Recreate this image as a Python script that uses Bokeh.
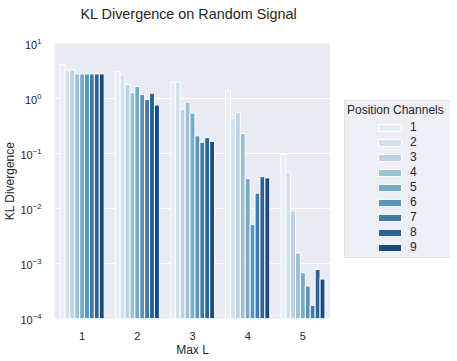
from bokeh.plotting import figure
from bokeh.layouts import row
from bokeh.models import (FactorRange, Range1d, Legend, LegendItem, ColumnDataSource, Title)
from bokeh.transform import dodge
from bokeh.embed import file_html
from bokeh.resources import INLINE

# ---- data ----
max_l = ["1", "2", "3", "4", "5"]
channels = ["1", "2", "3", "4", "5", "6", "7", "8", "9"]
ch1 = [4.2, 3.1, 2.0, 1.36, 0.096]
ch2 = [3.3, 2.7, 2.0, 0.44, 0.046]
ch3 = [3.3, 1.8, 0.63, 0.55, 0.0091]
ch4 = [2.8, 1.27, 0.86, 0.23, 0.00155]
ch5 = [2.8, 1.65, 0.54, 0.035, 0.00068]
ch6 = [2.8, 1.18, 0.21, 0.0051, 0.00039]
ch7 = [2.8, 0.96, 0.16, 0.019, 0.000174]
ch8 = [2.8, 1.25, 0.195, 0.038, 0.00078]
ch9 = [2.8, 0.76, 0.166, 0.036, 0.00052]
series = [ch1, ch2, ch3, ch4, ch5, ch6, ch7, ch8, ch9]
colors = ["#e6eef6", "#d3e1ee", "#bbd3e3", "#9cc1d5", "#77aac8",
          "#5a94b9", "#407caa", "#296398", "#194b80"]

FONT = "Liberation Sans"
TXT = "#262626"

data = {"maxl": max_l}
for name, vals in zip(channels, series):
    data["ch" + name] = vals
src = ColumnDataSource(data)

p = figure(x_range=FactorRange(*max_l, range_padding=0), y_axis_type="log",
           y_range=Range1d(1e-4, 10),
           frame_width=276, frame_height=275,
           min_border_left=48, min_border_right=0, min_border_top=42, min_border_bottom=0,
           output_backend="svg", toolbar_location=None, title_location=None)

p.background_fill_color = "#eaeaf2"
p.border_fill_color = "white"
p.outline_line_color = None

# spacer between plot and title (added first -> closest to the frame), then the title
p.add_layout(Title(text=" ", text_font=FONT, text_font_size="15px", standoff=0), "above")
p.add_layout(Title(text="KL Divergence on Random Signal", text_font=FONT,
                   text_font_size="14.4px", text_font_style="normal", text_color=TXT,
                   align="left", offset=26, standoff=6), "above")

p.xgrid.grid_line_color = None
p.ygrid.grid_line_color = "white"
p.ygrid.grid_line_width = 1

for ax in (p.xaxis, p.yaxis):
    ax.axis_line_color = None
    ax.major_tick_line_color = None
    ax.minor_tick_line_color = None
    ax.major_label_text_font = FONT
    ax.major_label_text_font_size = "11px"
    ax.major_label_text_color = TXT
    ax.axis_label_text_font = FONT
    ax.axis_label_text_font_size = "12px"
    ax.axis_label_text_font_style = "normal"
    ax.axis_label_text_color = TXT

p.xaxis.axis_label = "Max L"
p.yaxis.axis_label = "KL Divergence"
p.xaxis.major_label_standoff = 7
p.xaxis.axis_label_standoff = 0
p.yaxis.major_label_standoff = 7
p.yaxis.axis_label_standoff = 0

n = len(channels)
w = 0.8 / n
for i, (name, col) in enumerate(zip(channels, colors)):
    off = -0.4 + w * (i + 0.5)
    p.vbar(x=dodge("maxl", off, range=p.x_range), top="ch" + name, bottom=1e-5,
           width=w, source=src, fill_color=col, line_color="white", line_width=1)

# ---- legend panel (separate, axis-less figure to the right) ----
q = figure(width=120, height=345, min_border=0, output_backend="svg",
           toolbar_location=None, x_axis_location=None, y_axis_location=None,
           x_range=FactorRange(*max_l), y_range=Range1d(100, 200))
q.xgrid.grid_line_color = None
q.ygrid.grid_line_color = None
q.outline_line_color = None
q.background_fill_color = "white"
q.border_fill_color = "white"

# legend proxies (hidden renderers; only their legend swatches are drawn)
dummy = q.vbar(x="maxl", top="ch1", width=0.1, source=src, fill_alpha=0, line_alpha=0,
               visible=False)
box = Legend(items=[LegendItem(label="", renderers=[dummy])],
             location=(14, 46), margin=0, padding=2,
             title="Position Channels", title_text_font=FONT, title_text_font_size="12px",
             title_text_font_style="normal", title_text_color=TXT, title_standoff=5,
             glyph_width=102, glyph_height=133, label_width=0, label_height=0, label_standoff=0,
             inactive_fill_alpha=0,
             background_fill_color="#eeeef5", background_fill_alpha=1,
             border_line_color="#d6d6d6", border_line_width=1)
q.add_layout(box, "center")

patches = [q.vbar(x="maxl", top="ch" + c, width=0.1, source=src,
                  fill_color=col, line_color="white", line_width=1, visible=False)
           for c, col in zip(channels, colors)]
items = Legend(items=[LegendItem(label=c, renderers=[r]) for c, r in zip(channels, patches)],
               location=(45, 50), margin=0, padding=0, spacing=1,
               glyph_width=29, glyph_height=9, label_height=12, label_standoff=6,
               label_text_font=FONT, label_text_font_size="12px", label_text_color=TXT,
               inactive_fill_alpha=0,
               background_fill_alpha=0, border_line_alpha=0)
q.add_layout(items, "center")

layout = row(p, q)
open("out.html", "w").write(file_html(layout, INLINE))
